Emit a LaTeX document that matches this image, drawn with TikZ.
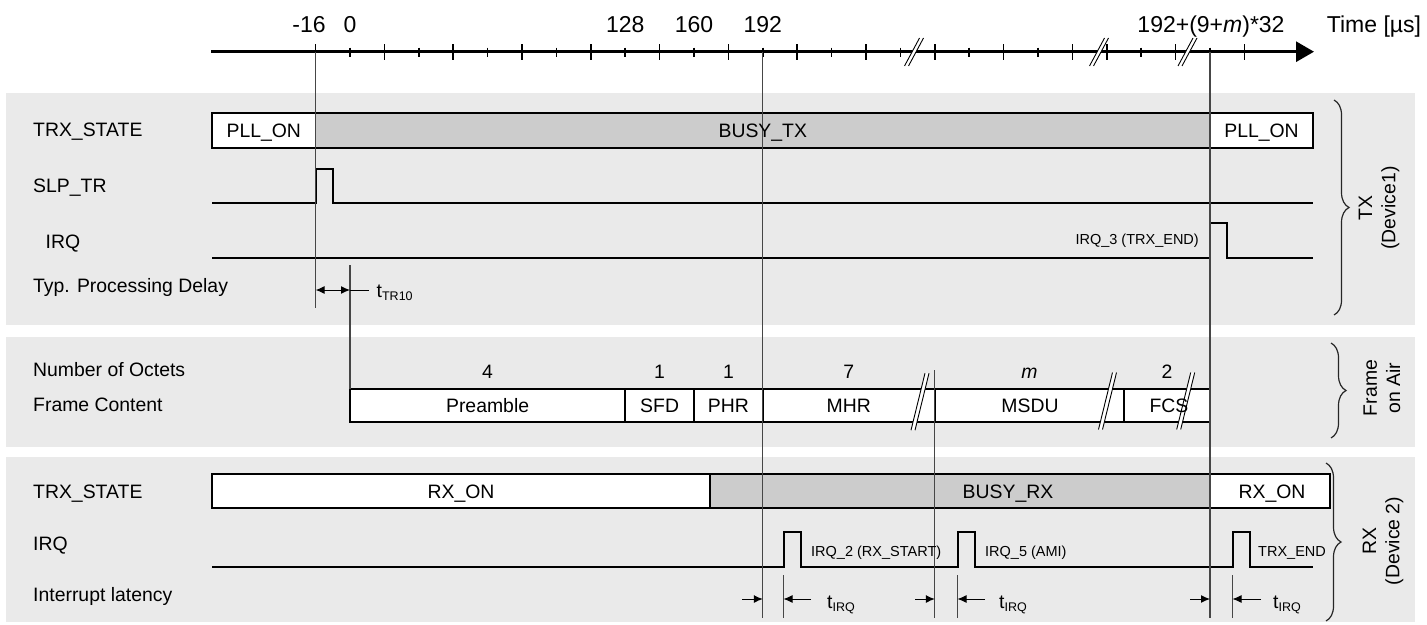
\documentclass[tikz,border=0pt]{standalone}
\usepackage{fontspec}
\setmainfont{Liberation Sans}
\usetikzlibrary{arrows.meta,decorations.pathreplacing}
\definecolor{band}{RGB}{234,234,234}
\definecolor{busy}{RGB}{204,204,204}
\definecolor{tline}{RGB}{70,70,70}
\newcommand{\brkmark}[5]{%
  \fill[white] ({#1-#4/2-#5/2},{#2+#3/2}) -- ({#1+#4/2-#5/2},{#2-#3/2}) -- ({#1+#4/2+#5/2},{#2-#3/2}) -- ({#1-#4/2+#5/2},{#2+#3/2}) -- cycle;
  \draw[line width=0.9pt] ({#1-#4/2-#5/2},{#2+#3/2}) -- ({#1+#4/2-#5/2},{#2-#3/2});
  \draw[line width=0.9pt] ({#1-#4/2+#5/2},{#2+#3/2}) -- ({#1+#4/2+#5/2},{#2-#3/2});}
\newcommand{\tsub}[1]{{\fontsize{19.4}{23}\selectfont t}{\fontsize{12.5}{15}\selectfont\raisebox{-3pt}{#1}}}
\begin{document}
\begin{tikzpicture}[x=1pt,y=-1pt,
  F/.style={font=\fontsize{19.4}{23.3}\selectfont, inner sep=0pt},
  S/.style={font=\fontsize{14.5}{17.4}\selectfont, inner sep=0pt},
  A/.style={font=\fontsize{23}{27}\selectfont, inner sep=0pt, anchor=base},
  sig/.style={line width=2pt, line join=miter},
  tl/.style={draw=tline, line width=1.2pt},
  tick/.style={line width=1.6pt},
  arr/.style={line width=1pt, -{Latex[length=9pt,width=8pt]}},
  brc/.style={decorate, decoration={brace, amplitude=15pt}, line width=1.2pt, draw=black!85},
]
\useasboundingbox (0,0) rectangle (1427,624);
\fill[white] (0,0) rectangle (1427,624);
% bands
\fill[band] (6,93) rectangle (1415,325);
\fill[band] (6,337.3) rectangle (1415,446.7);
\fill[band] (6,456.7) rectangle (1415,622);

% time axis
\foreach \n in {-1,1,...,21,22,24,26} \draw[tick] ({350+34.4*\n},44) -- ({350+34.4*\n},59.5);
\foreach \n in {0,2,...,20,23,25} \draw[tick] ({350+34.4*\n},47.5) -- ({350+34.4*\n},56.5);
\draw[line width=2.8pt, -{Triangle[length=18pt,width=20pt]}] (211,51.7) -- (1314,51.7);
\brkmark{914}{52}{28}{15}{4}
\brkmark{1099}{52}{28}{15}{4}
\brkmark{1187.5}{52}{28}{15}{4}
\node[A] (lm16) at (309,32.7) {-16};
\node[A] (l0) at (350,32.7) {0};
\node[A] (l128) at (625.2,32.7) {128};
\node[A] (l160) at (694,32.7) {160};
\node[A] (l192) at (762.8,32.7) {192};
\node[A] (lend) at (1211,32.7) {192+(9+\textit{m})*32};
\node[A] (ltime) at (1374,32.7) {Time [µs]};

% TX state box
\fill[white] (212,113.3) rectangle (1313,148.3);
\fill[busy] (315.6,113.3) rectangle (1210,148.3);
\draw[line width=2pt] (212,113.3) rectangle (1313,148.3);
% RX state box
\fill[white] (212,474) rectangle (1330,508.3);
\fill[busy] (710,474) rectangle (1210,508.3);
\draw[line width=2pt] (212,474) rectangle (1330,508.3);
\draw[line width=1.5pt] (710,474) -- (710,508.3);
% frame box
\fill[white] (350,389) rectangle (1210,422.3);
\draw[line width=2pt] (350,389) rectangle (1210,422.3);
\foreach \x in {625.2,694,762.8,934.8,1124} \draw[line width=1.5pt] (\x,389) -- (\x,422.3);

% signals
\draw[sig] (212,202.7) -- (315.6,202.7) -- (315.6,169.3) -- (333,169.3) -- (333,202.7) -- (1313,202.7);
\draw[sig] (212,257.7) -- (1210,257.7) -- (1210,222.7) -- (1227,222.7) -- (1227,257.7) -- (1313,257.7);
\draw[sig] (212,566.7) -- (783.5,566.7) -- (783.5,532.3) -- (801,532.3) -- (801,566.7)
  -- (957.5,566.7) -- (957.5,532.3) -- (974.5,532.3) -- (974.5,566.7)
  -- (1232.5,566.7) -- (1232.5,532.3) -- (1250,532.3) -- (1250,566.7) -- (1313,566.7);

% time lines
\draw[tl] (315.6,51.7) -- (315.6,308);
\draw[tl] (350,265) -- (350,389);
\draw[tl] (762.8,51.7) -- (762.8,618);
\draw[tl] (1210,51.7) -- (1210,618);
\draw[tl] (934.8,370) -- (934.8,618);
\foreach \x in {783.5,957.5,1232.5} \draw[tl] (\x,575) -- (\x,618);

% processing delay
\draw[line width=1pt, {Latex[length=9pt,width=8pt]}-{Latex[length=9pt,width=8pt]}] (315.6,290) -- (350,290);
\draw[line width=1pt] (350,290) -- (369,290);
\node[inner sep=0pt, anchor=base west] (ttr) at (376.5,297) {\tsub{TR10}};

% interrupt latency
\draw[arr] (742,599) -- (762.8,599);
\draw[arr] (811,599) -- (783.5,599);
\draw[arr] (915,599) -- (934.8,599);
\draw[arr] (985,599) -- (957.5,599);
\draw[arr] (1190,599) -- (1210,599);
\draw[arr] (1261,599) -- (1232.5,599);
\node[inner sep=0pt, anchor=base west] (ti1) at (827,608) {\tsub{IRQ}};
\node[inner sep=0pt, anchor=base west] (ti2) at (999,608) {\tsub{IRQ}};
\node[inner sep=0pt, anchor=base west] (ti3) at (1273,608) {\tsub{IRQ}};

% frame break marks
\brkmark{920}{401.7}{57}{14}{4}
\brkmark{1107.5}{401}{57}{14}{4}
\brkmark{1185.7}{401}{57}{14}{4}

% left labels
\node[F, anchor=base west] (txs) at (33,136.7) {TRX\_STATE};
\node[F, anchor=base west] (slp) at (33,192.3) {SLP\_TR};
\node[F, anchor=base west] (txirq) at (45.5,248.3) {IRQ};
\node[F, anchor=base west] (tpd) at (33,292.3) {Typ. Processing Delay};
\node[F, anchor=base west] (noo) at (33,376.7) {Number of Octets};
\node[F, anchor=base west] (fc) at (33,411.7) {Frame Content};
\node[F, anchor=base west] (rxs) at (33,498.7) {TRX\_STATE};
\node[F, anchor=base west] (rxirq) at (33,550.8) {IRQ};
\node[F, anchor=base west] (il) at (33,601.7) {Interrupt latency};

% state labels
\node[F, anchor=base] (s1) at (263.8,137.8) {PLL\_ON};
\node[F, anchor=base] (s2) at (762.8,137.8) {BUSY\_TX};
\node[F, anchor=base] (s3) at (1261.5,137.8) {PLL\_ON};
\node[F, anchor=base] (r1) at (461,498.2) {RX\_ON};
\node[F, anchor=base] (r2) at (1008,498.2) {BUSY\_RX};
\node[F, anchor=base] (r3) at (1272,498.2) {RX\_ON};

% small labels
\node[S, anchor=base east] (irq3) at (1199,244.2) {IRQ\_3 (TRX\_END)};
\node[S, anchor=base west] (irq2) at (811,556.8) {IRQ\_2 (RX\_START)};
\node[S, anchor=base west] (irq5) at (985,556.8) {IRQ\_5 (AMI)};
\node[S, anchor=base west] (trxend) at (1258,556.8) {TRX\_END};

% octets
\node[F, anchor=base] (o1) at (487.6,378.3) {4};
\node[F, anchor=base] (o2) at (659.6,378.3) {1};
\node[F, anchor=base] (o3) at (728.4,378.3) {1};
\node[F, anchor=base] (o4) at (848.8,378.3) {7};
\node[F, anchor=base] (o5) at (1029.4,378.3) {\textit{m}};
\node[F, anchor=base] (o6) at (1167,378.3) {2};
\node[F, anchor=base] (f1) at (487.6,412.7) {Preamble};
\node[F, anchor=base] (f2) at (659.6,412.7) {SFD};
\node[F, anchor=base] (f3) at (728.4,412.7) {PHR};
\node[F, anchor=base] (f4) at (848.8,412.7) {MHR};
\node[F, anchor=base] (f5) at (1030,412.7) {MSDU};
\node[F, anchor=base] (f6) at (1169,412.7) {FCS};

% braces
\draw[brc] (1334,100) -- (1334,315);
\draw[brc] (1331,343) -- (1331,438);
\draw[brc] (1326,463) -- (1326,621);
\node[F, rotate=90, align=center] (btx) at (1379,208) {TX\\(Device1)};
\node[F, rotate=90, align=center] (bfr) at (1382,388) {Frame\\on Air};
\node[F, rotate=90, align=center] (brx) at (1383,541) {RX\\(Device 2)};
\end{tikzpicture}
\end{document}
